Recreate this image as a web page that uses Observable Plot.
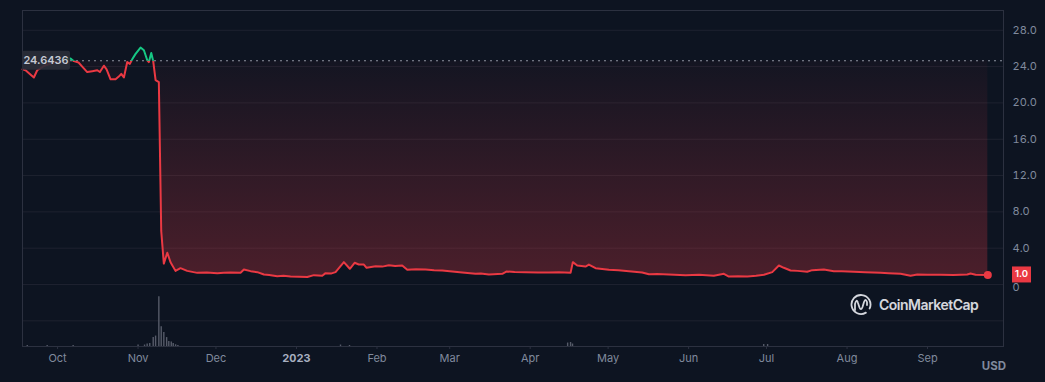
<!DOCTYPE html>
<html>
<head>
<meta charset="utf-8">
<script src="https://cdn.jsdelivr.net/npm/d3@7"></script>
<script src="https://cdn.jsdelivr.net/npm/@observablehq/plot@0.6"></script>
<style>
  html, body { margin: 0; padding: 0; background: #0d1421; }
  #chart { width: 1045px; height: 382px; overflow: hidden; }
</style>
</head>
<body>
<div id="chart"></div>
<script>
// ---------- data ----------
const PRICE_DATES = [
  "2022-09-17T12","2022-09-18T16","2022-09-21T21","2022-09-23T04","2022-09-26T00","2022-09-29T00",
  "2022-10-02T12","2022-10-06T00","2022-10-07T07","2022-10-09T02","2022-10-10T12","2022-10-12T10",
  "2022-10-14T09","2022-10-16T07","2022-10-17T07","2022-10-18T20","2022-10-19T21","2022-10-21T10",
  "2022-10-23T08","2022-10-24T14","2022-10-25T13","2022-10-26T13","2022-10-27T20","2022-10-28T20",
  "2022-10-29T18","2022-10-31T01","2022-11-01T23","2022-11-03T06","2022-11-04T13","2022-11-05T04",
  "2022-11-06T02","2022-11-06T20","2022-11-07T18","2022-11-09T00","2022-11-09T22","2022-11-10T22",
  "2022-11-12T06","2022-11-13T12","2022-11-15T10","2022-11-17T08","2022-11-19T22","2022-11-23T19",
  "2022-11-27T12","2022-12-01T12","2022-12-04T00","2022-12-06T15","2022-12-10T11","2022-12-11T18",
  "2022-12-14T08","2022-12-16T22","2022-12-19T11","2022-12-21T12","2022-12-24T14","2022-12-27T00",
  "2022-12-29T17","2023-01-02T00","2023-01-05T04","2023-01-07T17","2023-01-10T22","2023-01-12T05",
  "2023-01-14T12","2023-01-16T01","2023-01-19T06","2023-01-21T13","2023-01-23T09","2023-01-25T00",
  "2023-01-26T23","2023-01-28T00","2023-01-31T11","2023-02-03T00","2023-02-05T14","2023-02-08T00",
  "2023-02-10T17","2023-02-12T16","2023-02-16T00","2023-02-19T17","2023-02-23T00","2023-02-26T03",
  "2023-03-01T00","2023-03-05T20","2023-03-10T23","2023-03-13T00","2023-03-16T02","2023-03-21T06",
  "2023-03-22T19","2023-03-26T00","2023-03-30T05","2023-04-04T00","2023-04-08T04","2023-04-12T00",
  "2023-04-16T13","2023-04-17T10","2023-04-19T03","2023-04-22T07","2023-04-23T14","2023-04-26T04",
  "2023-05-01T07","2023-05-05T00","2023-05-09T00","2023-05-14T03","2023-05-16T17","2023-05-20T00",
  "2023-05-24T09","2023-05-30T20","2023-06-05T00","2023-06-10T17","2023-06-14T14","2023-06-16T12",
  "2023-06-20T00","2023-06-23T14","2023-06-27T00","2023-06-30T00","2023-07-03T05","2023-07-05T18",
  "2023-07-07T16","2023-07-10T06","2023-07-13T00","2023-07-16T16","2023-07-18T14","2023-07-23T02",
  "2023-07-26T22","2023-07-30T00","2023-08-03T15","2023-08-08T00","2023-08-13T22","2023-08-17T00",
  "2023-08-21T15","2023-08-25T11","2023-08-28T01","2023-09-01T00","2023-09-06T00","2023-09-11T00",
  "2023-09-16T07","2023-09-17T13","2023-09-19T12","2023-09-24T05"
];
const PRICE_VALUES = [
  23.7, 23.6, 22.8, 23.6, 24.1, 24.4,
  24.7, 24.9, 24.6, 24.45, 24.0, 23.4,
  23.5, 23.6, 23.4, 24.1, 23.7, 22.6,
  22.6, 22.9, 23.2, 22.8, 24.5, 24.3,
  24.8, 25.4, 26.1, 25.8, 24.7, 24.5,
  25.5, 24.6, 22.5, 22.3, 5.9, 2.3,
  3.5, 2.45, 1.5, 1.8, 1.5, 1.28,
  1.31, 1.25, 1.3, 1.32, 1.29, 1.65,
  1.47, 1.36, 1.1, 1.04, 0.92, 0.96,
  0.88, 0.86, 0.82, 1.03, 0.96, 1.25,
  1.22, 1.36, 2.46, 1.73, 2.39, 2.2,
  2.2, 1.84, 2.02, 1.97, 2.13, 2.05,
  2.09, 1.62, 1.68, 1.65, 1.58, 1.54,
  1.47, 1.32, 1.18, 1.22, 1.1, 1.18,
  1.43, 1.38, 1.36, 1.33, 1.32, 1.35,
  1.29, 2.46, 2.09, 1.98, 2.2, 1.8,
  1.62, 1.58, 1.47, 1.32, 1.13, 1.15,
  1.1, 1.03, 1.06, 0.96, 1.18, 0.88,
  0.9, 0.88, 0.97, 1.07, 1.36, 2.09,
  1.84, 1.54, 1.5, 1.4, 1.58, 1.65,
  1.47, 1.45, 1.4, 1.36, 1.29, 1.25,
  1.18, 0.96, 1.1, 1.08, 1.07, 1.05,
  1.1, 1.21, 1.07, 1.05
];
// relative trading volume (largest bar = 100)
const VOL_DATES = [
  "2022-09-19T08","2022-09-27T00","2022-10-07T00","2022-11-01T00","2022-11-03T12","2022-11-04T12",
  "2022-11-05T12","2022-11-06T20","2022-11-07T18","2022-11-09T00","2022-11-09T22","2022-11-10T22",
  "2022-11-12T00","2022-11-12T20","2022-11-13T19","2022-11-14T13","2022-11-15T11","2022-11-16T08",
  "2023-01-17T23","2023-01-21T10","2023-04-15T10","2023-04-16T13","2023-04-17T07","2023-06-29T22",
  "2023-07-01T10"
];
const VOL_VALUES = [
  2, 2, 2, 3, 3, 5,
  6, 18, 21, 100, 40, 28,
  18, 10, 9, 6, 3.5, 2,
  3, 2, 7, 8, 5, 4,
  4
];
const BASELINE = 24.6436;          // reference price (dotted line)
const BASELINE_LABEL = "24.6436";
const LAST_LABEL = "1.0";
const Y_TICKS = [4, 8, 12, 16, 20, 24, 28];
const Y_ZERO_TICK = [0];
const GRID_TICKS = [-4, 0, 4, 8, 12, 16, 20, 24, 28];
const MONTH_TICKS = ["2022-10-01","2022-11-01","2022-12-01","2023-02-01","2023-03-01","2023-04-01",
                     "2023-05-01","2023-06-01","2023-07-01","2023-08-01","2023-09-01"];
const YEAR_TICKS = ["2023-01-01"];
const YEAR_LABEL = "2023";
const X_DOMAIN = ["2022-09-17T12", "2023-09-30T06"];
const Y_DOMAIN = [-6.83, 30.18];
const UNIT = "USD";
const BRAND = "CoinMarketCap";

// ---------- build ----------
const parseH = d3.utcParse("%Y-%m-%dT%H");
const parseD = d3.utcParse("%Y-%m-%d");
const price = PRICE_DATES.map((d, i) => ({date: parseH(d), value: PRICE_VALUES[i]}));
const volume = VOL_DATES.map((d, i) => ({date: parseH(d), value: VOL_VALUES[i]}));
const volMax = d3.max(VOL_VALUES);
const VOL_SPAN = 5.47; // height of the tallest volume bar, in price units
const RED = "#ea3943", GREEN = "#16c784";
const TEXT = "#808a9d";

const chart = Plot.plot({
  width: 1045,
  height: 382,
  marginLeft: 22,
  marginRight: 42,
  marginTop: 10,
  marginBottom: 36,
  style: {background: "#0d1421", color: TEXT, fontFamily: "Inter, sans-serif", fontSize: "11px", overflow: "visible"},
  x: {type: "utc", domain: X_DOMAIN.map(parseH), label: null},
  y: {domain: Y_DOMAIN, label: null},
  marks: [
    Plot.gridY(GRID_TICKS, {stroke: "#1e2230", strokeOpacity: 1}),
    Plot.ruleY([BASELINE], {stroke: "#8e94a2", strokeDasharray: "2,4", strokeWidth: 1}),
    Plot.areaY(price, {x: "date", y1: () => BASELINE, y2: "value", fill: "url(#fttGrad)"}),
    Plot.ruleX(volume, {x: "date", y1: () => Y_DOMAIN[0], y2: d => Y_DOMAIN[0] + d.value / volMax * VOL_SPAN,
                        stroke: "#565b69", strokeWidth: 1.4}),
    Plot.lineY(price, {x: "date", y: "value", stroke: RED, strokeWidth: 2}),
    Plot.lineY(price, {x: "date", y: "value", stroke: GREEN, strokeWidth: 2}),
    Plot.dot(price.slice(-1), {x: "date", y: "value", r: 4, fill: RED, stroke: "none"}),
    Plot.frame({stroke: "#2c3140"}),
    Plot.axisY(Y_TICKS, {anchor: "right", tickSize: 0, tickPadding: 9, fill: TEXT, label: null,
                         tickFormat: d => d.toFixed(1)}),
    Plot.axisY(Y_ZERO_TICK, {anchor: "right", tickSize: 0, tickPadding: 9, fill: TEXT, label: null, dy: 3,
                         tickFormat: d => String(d)}),
    Plot.axisX(MONTH_TICKS.map(parseD), {anchor: "bottom", tickSize: 3, tickPadding: 5, stroke: "#2c3140",
                         fill: TEXT, label: null, tickFormat: d3.utcFormat("%b")}),
    Plot.axisX(YEAR_TICKS.map(parseD), {anchor: "bottom", tickSize: 3, tickPadding: 5, stroke: "#2c3140",
                         fill: "#a7afc0", fontWeight: "bold", label: null, tickFormat: () => YEAR_LABEL})
  ]
});
document.getElementById("chart").appendChild(chart);

// ---------- baseline styling (clip + gradient), labels, watermark ----------
const ys = chart.scale("y");
const y0 = ys.apply(BASELINE);
const yZero = ys.apply(0);
const svg = d3.select(chart);
const defs = svg.insert("defs", ":first-child");
const grad = defs.append("linearGradient").attr("id", "fttGrad").attr("gradientUnits", "userSpaceOnUse")
  .attr("x1", 0).attr("x2", 0).attr("y1", y0).attr("y2", yZero);
grad.append("stop").attr("offset", 0).attr("stop-color", RED).attr("stop-opacity", 0.03);
grad.append("stop").attr("offset", 1).attr("stop-color", RED).attr("stop-opacity", 0.29);
defs.append("clipPath").attr("id", "clipAbove").append("rect")
  .attr("x", 0).attr("y", 0).attr("width", 1045).attr("height", y0);
defs.append("clipPath").attr("id", "clipBelow").append("rect")
  .attr("x", 0).attr("y", y0).attr("width", 1045).attr("height", 382 - y0);
svg.selectAll(`g[stroke="${GREEN}"]`).attr("clip-path", "url(#clipAbove)");
svg.selectAll(`g[stroke="${RED}"]`).attr("clip-path", "url(#clipBelow)");
svg.selectAll('g[fill="url(#fttGrad)"]').attr("clip-path", "url(#clipBelow)");

// baseline label (left)
const bl = svg.append("g");
bl.append("rect").attr("x", 22).attr("y", y0 - 9.5).attr("width", 48).attr("height", 19).attr("rx", 2)
  .attr("fill", "#2a2e39").attr("fill-opacity", 0.9);
bl.append("text").attr("x", 46).attr("y", y0).attr("dy", "0.35em").attr("text-anchor", "middle")
  .attr("fill", "#c5c9d3").attr("font-size", "11px").attr("font-weight", 600).text(BASELINE_LABEL);

// last price label (right)
const last = price[price.length - 1];
const yl = ys.apply(last.value);
const pl = svg.append("g");
pl.append("rect").attr("x", 1012).attr("y", yl - 8).attr("width", 19).attr("height", 16).attr("fill", RED);
pl.append("text").attr("x", 1021.5).attr("y", yl - 0.5).attr("dy", "0.35em").attr("text-anchor", "middle")
  .attr("fill", "#ffffff").attr("font-size", "9.5px").attr("font-weight", 600).text(LAST_LABEL);

// unit label
svg.append("text").attr("x", 994).attr("y", 366).attr("dy", "0.35em").attr("text-anchor", "middle")
  .attr("fill", TEXT).attr("font-size", "11.5px").attr("font-weight", 700).text(UNIT);

// watermark
const wm = svg.append("g").attr("fill", "none").attr("stroke", "#e6e8ee").attr("stroke-width", 1.8)
  .attr("stroke-linecap", "round").attr("stroke-linejoin", "round").attr("opacity", 0.92);
wm.append("path").attr("d", d3.arc()({innerRadius: 9.5, outerRadius: 9.5, startAngle: 2.6, endAngle: 2 * Math.PI + 2.0}))
  .attr("transform", "translate(861,304.5)");
wm.append("path").attr("d", "M855,310 L855,304 Q856.5,298 858,303 L859.5,307.5 Q861,311 862.5,307 L864,302 Q865.5,298 867,302 L867,305");
svg.append("text").attr("x", 879).attr("y", 305).attr("dy", "0.35em").attr("text-anchor", "start")
  .attr("fill", "#e6e8ee").attr("opacity", 0.92).attr("letter-spacing", "-0.5px")
  .attr("font-size", "14px").attr("font-weight", 600).text(BRAND);
</script>
</body>
</html>
